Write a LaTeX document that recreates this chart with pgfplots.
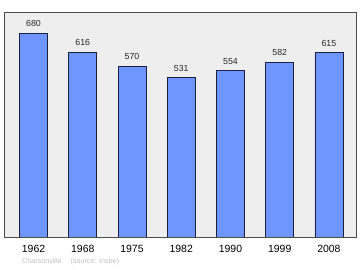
\documentclass[border=0pt]{standalone}
\usepackage{pgfplots}
\pgfplotsset{compat=1.18}
\usepackage{fontspec}
\setmainfont{Liberation Sans}
\definecolor{barfill}{HTML}{6F96FF}
\definecolor{bgc}{HTML}{EEEEEE}
\definecolor{barline}{HTML}{1C2040}
\begin{document}
\begin{tikzpicture}[x=1bp,y=1bp]
\path[use as bounding box] (0,0) rectangle (360,270);
\begin{axis}[
  at={(4bp,33bp)}, anchor=south west,
  scale only axis, width=352bp, height=225bp,
  xmin=-0.6, xmax=6.55, ymin=0, ymax=750,
  axis background/.style={fill=bgc},
  axis line style={draw=black!70, line width=0.9pt},
  ytick=\empty,
  xtick={0,...,6},
  xticklabels={1962,1968,1975,1982,1990,1999,2008},
  major tick length=0pt,
  xticklabel style={font=\fontsize{10.5}{12}\selectfont, inner sep=0pt, yshift=-8bp},
  /pgf/number format/assume math mode=true,
  ybar, bar width=28bp,
  nodes near coords,
  every node near coord/.append style={font=\fontsize{8.8}{10}\selectfont, inner sep=0pt, yshift=6bp, text=black!85},
]
\addplot[fill=barfill, draw=barline, line width=0.7pt] coordinates {
(0,680) (1,616) (2,570) (3,531) (4,554) (5,582) (6,615)};
\end{axis}
\node[anchor=west, inner sep=0pt, text=black!25, font=\fontsize{7.2}{8}\selectfont] at (22bp,8bp) {Charsonville\hspace{9bp}(source: Insee)};
\end{tikzpicture}
\end{document}
